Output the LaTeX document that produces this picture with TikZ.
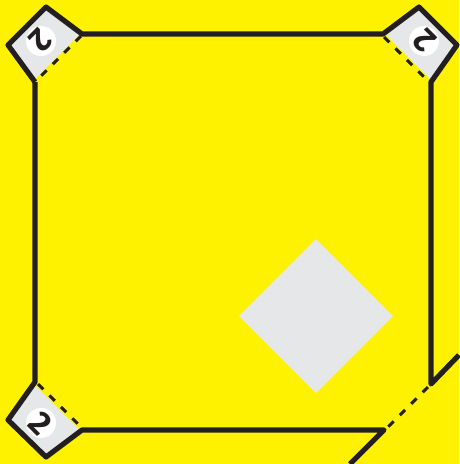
\documentclass[tikz,border=0pt]{standalone}
\usepackage{fontspec}
\setmainfont{Fira Sans}
\definecolor{bgyellow}{HTML}{FFF200}
\definecolor{pocketgray}{HTML}{E6E7E8}
\definecolor{inkblack}{HTML}{231F20}
\tikzset{
  wall/.style={draw=inkblack,line width=5.2pt,line join=round},
  hatch/.style={draw=inkblack,line width=3pt,dash pattern=on 7.5pt off 8.7pt},
  pocket/.style={fill=pocketgray},
  badge/.style={circle,fill=white,minimum size=30pt,inner sep=0pt,text=inkblack,font=\fontsize{33}{33}\selectfont\bfseries}
}
\begin{document}
\begin{tikzpicture}[x=1pt,y=-1pt]
\useasboundingbox (0,0) rectangle (459,464);
\fill[bgyellow] (0,0) rectangle (459,464);
% corners of the court
\coordinate (tl1) at (35,82); \coordinate (tl2) at (8,45); \coordinate (tl3) at (46,7); \coordinate (tl4) at (82,34);
\coordinate (tr1) at (383,34); \coordinate (tr2) at (419,7); \coordinate (tr3) at (457,45); \coordinate (tr4) at (431,82);
\coordinate (bl1) at (35,382); \coordinate (bl2) at (8,420); \coordinate (bl3) at (46,457); \coordinate (bl4) at (82,430);
\coordinate (br1) at (431,384); \coordinate (br2) at (384,430);
\coordinate (brA) at (459,355); \coordinate (brB) at (350,464);
% diamond
\fill[pocketgray] (316,239) -- (393,316) -- (316,393) -- (239,316) -- cycle;
% pockets
\fill[pocket] (tl2) -- (tl3) -- (tl4) -- (80,34) -- (34,80) -- cycle;
\fill[pocket] (tr1) -- (tr2) -- (tr3) -- (tr4) -- (431,80) -- (385,34) -- cycle;
\fill[pocket] (bl1) -- (bl2) -- (bl3) -- (bl4) -- (80,430) -- (34,384) -- cycle;
% badges
\node[badge,rotate=-135] (n1) at (41,41) {2};
\node[badge,rotate=135] (n2) at (424,41) {2};
\node[badge,rotate=-45] (n3) at (41,423) {2};
% dashed throats
\coordinate (d1a) at (81,36); \coordinate (d1b) at (36,81);
\coordinate (d2a) at (384,37); \coordinate (d2b) at (430,83);
\coordinate (d3a) at (38,384); \coordinate (d3b) at (81,427);
\coordinate (d4a) at (428,387); \coordinate (d4b) at (387,428);
\draw[hatch] (d1a) -- (d1b);
\draw[hatch] (d2a) -- (d2b);
\draw[hatch] (d3a) -- (d3b);
\draw[hatch] (d4a) -- (d4b);
% walls
\draw[wall] (tl1) -- (tl2) -- (tl3) -- (tl4) -- (tr1) -- (tr2) -- (tr3) -- (tr4) -- (br1) -- (brA);
\draw[wall] (tl1) -- (bl1) -- (bl2) -- (bl3) -- (bl4) -- (br2) -- (brB);
\end{tikzpicture}
\end{document}
